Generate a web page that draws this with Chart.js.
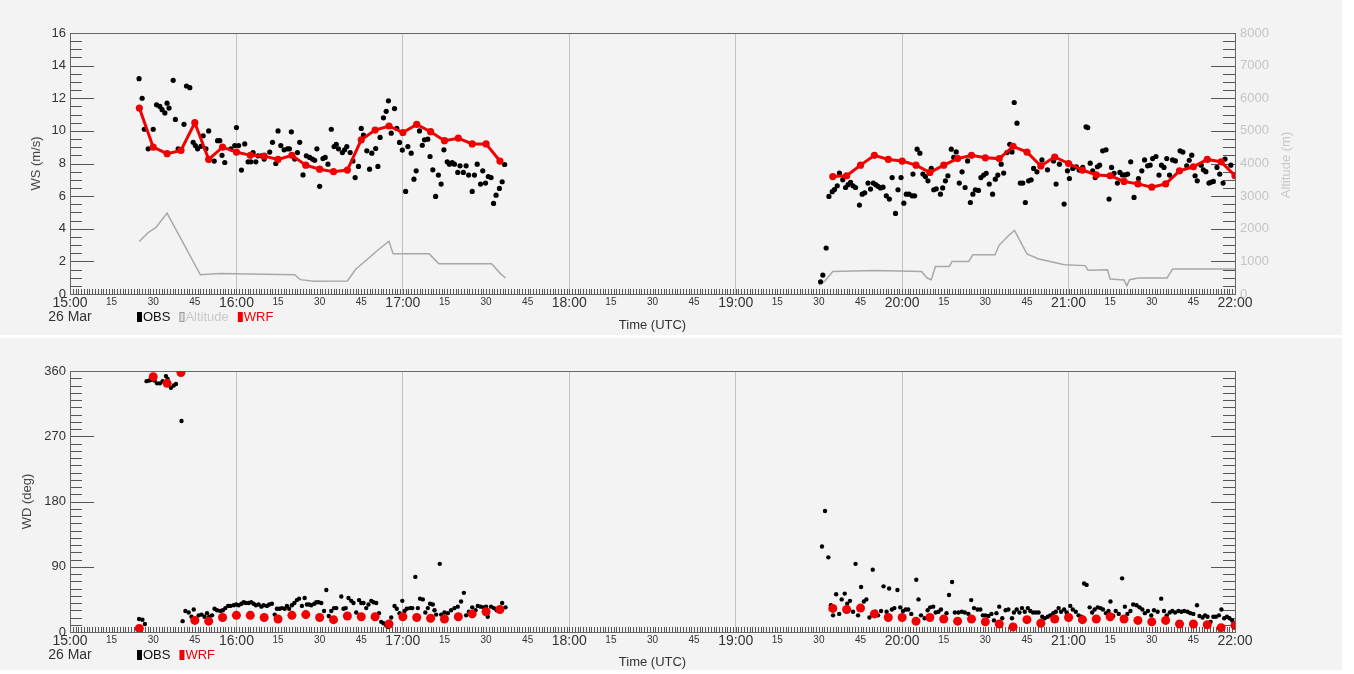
<!DOCTYPE html>
<html>
<head>
<meta charset="utf-8">
<script src="https://cdn.jsdelivr.net/npm/chart.js@4.4.0/dist/chart.umd.min.js"></script>
<style>
  body { margin: 0; background: #fff; }
  .panel { position: absolute; left: 0; width: 1342px; background: #f3f3f3; }
  #p1 { top: 0; height: 335px; }
  #p2 { top: 338px; height: 332px; }
</style>
</head>
<body>
<div class="panel" id="p1"><canvas id="ws"></canvas></div>
<div class="panel" id="p2"><canvas id="wd"></canvas></div>
<script>
// time axis is minutes after 15:00 UTC, 26 Mar
const tStart = 0, tEnd = 420;

// observed wind speed (m/s), [minute, value]
const obsWs = [
  [24.9,13.2],[26,12.0],[26.8,10.1],[28.2,8.9],[30,10.1],[31.2,11.6],[32.4,11.5],[33.2,11.3],[34.2,11.1],[35,11.7],
  [35.7,11.4],[37.2,13.1],[38,10.7],[39,8.9],[41.1,10.4],[42,12.75],[43.2,12.65],[44.4,9.3],[45.2,9.1],[46,8.9],
  [47.2,9.05],[48,9.7],[49,8.9],[50,10.0],[52,8.15],[53.2,9.4],[54,9.4],[54.8,8.5],[55.8,8.06],[58,8.9],
  [59.4,9.1],[60,10.2],[60.8,9.1],[61.8,7.6],[63,9.2],[64.2,8.1],[65.2,8.1],[66,8.67],[67,8.1],[67.8,8.47],
  [69,8.47],[70,8.27],[72,8.7],[73,9.3],[74.2,8.0],[75,10.0],[76,9.1],[77.2,8.84],[78.4,8.9],[79.1,8.9],
  [79.8,9.94],[81,8.27],[82,8.67],[82.8,9.3],[84,7.3],[85.2,8.47],[86.4,8.37],[87.4,8.27],[88.2,8.2],[89,8.9],
  [90,6.6],[91.2,8.3],[92,8.37],[93,7.96],[94.2,10.1],[95.2,9.04],[96,9.18],[96.8,8.9],[98.2,8.67],[99,8.84],
  [99.8,9.04],[101,8.67],[102,8.16],[102.8,7.14],[104,7.82],[105,10.15],[105.8,9.74],[107,8.78],[108,7.65],[108.8,8.63],
  [110.2,8.92],[111,7.82],[111.8,9.6],[113,10.8],[114,11.2],[114.8,11.84],[115.8,9.86],[117,11.37],[117.8,10.15],[118.8,9.29],
  [119.8,8.82],[121,6.29],[121.8,9.04],[123,8.63],[124,7.04],[124.8,7.55],[126,10.0],[127,9.12],[127.8,9.45],[129,9.49],
  [129.8,8.43],[130.8,7.61],[131.8,5.98],[132.8,7.29],[133.8,6.74],[134.8,8.84],[136,8.1],[136.8,7.96],[137.8,8.06],[138.6,7.96],
  [139.8,7.45],[140.6,7.86],[141.8,7.45],[142.8,7.86],[143.7,7.29],[145,6.29],[145.8,7.29],[146.8,7.96],[148,6.74],[148.8,7.55],
  [149.8,6.8],[150.8,7.2],[151.8,7.14],[152.7,5.55],[153.6,6.06],[154.8,6.47],[155.8,6.88],[156.7,7.94],
  [270.6,0.75],[271.4,1.16],[272.6,2.82],[273.6,5.98],[274.8,6.27],[275.6,6.4],[276.6,6.63],[277.4,7.41],[278.6,7.0],[279.6,6.53],
  [280.5,6.7],[281.4,6.84],[282.3,6.63],[283.2,6.53],[284.6,5.45],[285.6,6.12],[286.5,6.2],[287.7,6.8],[288.6,6.43],[289.6,6.8],
  [290.5,6.7],[291.3,6.6],[292.2,6.5],[293.1,6.55],[294.3,6.02],[295.4,5.82],[296.4,7.14],[297.6,4.94],[298.5,6.39],[299.6,7.14],
  [300.6,5.57],[301.5,6.12],[302.5,6.12],[303.6,6.02],[303.9,7.35],[304.5,6.02],[305.4,8.88],[306.4,8.63],[307.5,7.35],[308.4,7.2],
  [309.3,6.94],[310.5,7.7],[311.4,6.39],[312.3,6.45],[313.8,6.12],[314.6,6.5],[315.6,6.94],[316.5,7.25],[317.7,8.88],[318.6,8.37],
  [319.5,8.71],[320.6,6.8],[321.6,7.49],[322.7,6.53],[323.6,8.16],[324.6,5.61],[325.5,6.12],[326.4,6.39],[327.5,6.35],[328.4,7.14],
  [329.4,7.29],[330.3,7.4],[331.4,6.74],[332.6,6.12],[333.6,7.04],[334.5,7.29],[335.7,7.96],[336.6,7.41],[337.8,8.67],[338.8,9.18],
  [339.6,8.71],[340.4,11.74],[341.4,10.47],[342.6,6.8],[343.5,6.8],[344.4,5.61],[345.6,6.94],[346.5,7.0],[347.4,7.7],[348.6,7.49],
  [350.4,8.22],[352.4,7.61],[354.6,8.16],[355.5,6.74],[356.7,7.96],[358.4,5.51],[359.6,7.55],[360.3,7.08],[361.5,7.7],[362.8,7.8],
  [363.8,7.6],[365.1,7.76],[366.3,10.25],[366.9,10.2],[367.8,8.02],[368.7,7.55],[369.6,7.14],[370.4,7.8],[371.2,7.9],[372.3,8.78],
  [373.5,8.84],[374.6,5.82],[375.5,7.76],[376.4,7.4],[377.6,6.8],[378.5,7.45],[379.4,7.3],[380.4,7.3],[381.3,7.35],[382.4,8.1],
  [383.6,5.92],[385.2,7.08],[386.4,7.55],[387.4,8.22],[388.5,7.86],[389.4,7.9],[390.3,8.3],[391.5,8.43],[392.6,7.29],[393.5,7.9],
  [394.4,7.76],[395.4,8.3],[396.4,7.29],[397.5,8.22],[398.5,8.16],[400.2,8.78],[401.2,8.7],[402.6,7.86],[403.5,8.2],[404.4,8.51],
  [405.6,7.25],[406.4,6.94],[407.8,7.9],[408.6,7.61],[409.5,7.5],[410.6,6.8],[411.3,6.85],[412.2,6.9],[413.5,7.76],[414.5,7.35],
  [415.7,6.8],[416.4,8.27],[418.5,7.9]
];

// WRF wind speed (m/s), every 5 minutes
const wrfWsMin = [25,30,35,40,45,50,55,60,65,70,75,80,85,90,95,100,105,110,115,120,125,130,135,140,145,150,155,
  275,280,285,290,295,300,305,310,315,320,325,330,335,340,345,350,355,360,365,370,375,380,385,390,395,400,405,410,415,420];
const wrfWsVal = [11.4,9.0,8.6,8.8,10.5,8.25,9.0,8.7,8.5,8.45,8.25,8.5,7.9,7.65,7.5,7.6,9.45,10.05,10.3,9.9,10.4,9.95,9.4,9.55,9.2,9.2,8.15,
  7.2,7.25,7.9,8.5,8.25,8.15,7.9,7.45,7.9,8.3,8.5,8.35,8.3,9.05,8.7,7.85,8.4,8.0,7.6,7.3,7.25,6.9,6.75,6.55,6.75,7.55,7.8,8.25,8.1,7.25];

// aircraft altitude (m), [minute, value]
const altitude = [
  [25,1610],[28,1870],[31,2040],[35,2480],[47,590],[54,630],[81,590],[83,440],[88,390],[100,400],
  [103,760],[107,1050],[111,1350],[115,1620],[116.5,1230],[129.5,1230],[133,925],[152,925],[155,640],[157,490],
  [270,280],[272,385],[275,690],[290,720],[307,690],[309,490],[310.5,440],[312,845],[317,845],[318,1000],
  [324,1000],[325.5,1200],[333.5,1200],[335,1500],[338.5,1800],[340.5,1950],[345,1230],[349,1080],[358.5,900],[366,870],
  [367,730],[374,740],[375,460],[380,430],[381,250],[382,440],[385,490],[395.5,490],[397.5,765],[420,765]
];

// observed wind direction (deg), [minute, value]
const obsWd = [
  [24.9,18],[26.1,17],[27,11],[27.6,346],[28.6,347],[29.4,348],[30.5,347],[31.4,343],[32.4,343],[33.4,346],
  [34.6,353],[35.2,349],[36.4,337],[37.4,340],[38.2,342],[40.2,291],[40.6,15],[41.6,29],[42.8,27],[43.8,21],
  [44.6,31],[45.4,18],[46.4,23],[47.4,24],[48.5,21],[49.4,26],[50.2,21],[51.2,23],[52.1,32],[53,30],
  [54.2,29],[55.1,30],[56,33],[57,36],[57.8,36],[59,37],[59.9,38],[60.8,37],[61.8,39],[62.6,41],
  [63.4,40],[64.4,40],[65.3,41],[66.2,39],[67,37],[68,38],[69,35],[69.8,37],[71,36],[71.8,38],
  [72.8,39],[73.8,24],[74.6,32],[75.5,32],[76.4,33],[77.4,32],[78.2,36],[79,32],[80,37],[80.9,40],
  [81.8,44],[82.6,46],[83.6,36],[84.6,47],[85.4,38],[86.2,38],[87,37],[88.1,39],[88.8,41],[89.6,41],
  [90.6,40],[91.6,29],[92.4,58],[93.3,22],[94.2,29],[95.2,33],[96,33],[97.8,49],[98.6,32],[99.4,33],
  [100.4,47],[101.4,43],[102.2,40],[103.2,27],[104.2,44],[105,40],[105.8,40],[106.8,33],[107.6,38],[108.6,43],
  [109.4,41],[110.4,40],[111.4,26],[112.2,14],[113,12],[114,9],[114.8,7],[115.8,20],[117,36],[117.8,32],
  [118.8,26],[119.8,43],[120.6,29],[121.4,32],[122.6,33],[123.4,33],[124.5,76],[125.4,33],[126.2,46],[127.2,45],
  [128.1,27],[129,33],[129.8,39],[130.8,38],[131.4,30],[132,24],[133.3,94],[133.8,24],[135,27],[136.2,26],
  [137.4,30],[138.6,33],[139.8,35],[141,42],[142,54],[142.8,23],[143.8,28],[145,34],[146.2,30],[147,36],
  [148,35],[149,34],[150,35],[150.6,21],[151.8,35],[152.8,33],[153.8,30],[155.8,40],[157,34],
  [271.1,118],[272.2,167],[273.4,103],[274.3,37],[275.1,23],[276.2,52],[277.3,25],[278.2,45],[279.3,53],[280.2,39],
  [281.2,43],[282.3,28],[283.2,94],[284.1,23],[285.2,62],[286.2,42],[287.1,45],[288.2,20],[289.4,86],[290.4,28],
  [291.3,23],[292.4,29],[293.3,63],[294.4,28],[295.3,60],[296.3,31],[297.2,33],[298.3,58],[299.3,34],[300.3,29],
  [301.3,31],[302.2,31],[303.3,25],[305.1,72],[305.9,45],[306.8,23],[308.1,19],[309.2,30],[310.1,34],[311.2,35],
  [312.1,27],[313.1,28],[314,31],[316,26],[316.9,51],[318,69],[319,27],[320.3,27],[321.5,28],[322.6,27],
  [323.9,25],[324.9,44],[325.9,33],[327.2,31],[328.2,31],[329.1,23],[330,23],[331.1,22],[332.2,25],[333.1,16],
  [334,26],[335,35],[336.1,19],[337.3,30],[338.3,31],[339.6,19],[340.3,27],[341.3,31],[342.3,27],[343.2,33],
  [344.2,28],[345.3,33],[346.2,29],[347.2,27],[348.2,27],[349.2,27],[350.5,21],[351.4,19],[352.5,21],[353.4,23],
  [354.5,26],[355.4,28],[356.4,33],[357.3,28],[358.4,31],[359.3,27],[360.6,36],[361.5,31],[362.6,28],[363.6,23],
  [364.6,21],[365.6,67],[366.5,65],[367.6,34],[368.5,27],[369.4,31],[370.5,34],[371.5,33],[372.4,31],[373.5,26],
  [374.4,29],[375.1,42],[376.1,22],[377,29],[378.1,25],[379.3,74],[380.3,35],[381.2,25],[382.3,29],[383.3,38],
  [384.5,37],[385.6,34],[386.6,31],[387.5,26],[388.6,29],[389.8,23],[390.8,30],[392.1,28],[393.4,46],[394.4,29],
  [395.4,23],[396.5,27],[397.4,29],[398.4,27],[399.6,29],[400.7,28],[401.7,29],[402.9,28],[403.9,26],[405,25],
  [406.3,37],[407.2,22],[408.3,20],[409.2,23],[410.1,21],[411.2,14],[412.2,21],[413.1,21],[414.2,23],[415.1,31],
  [416.1,19],[417.1,21],[418,19],[419,16]
];

// WRF wind direction (deg), same 5-minute times as the speed
const wrfWdVal = [5,352,343,358,16,15,20,23,23,20,18,23,24,20,17,22,21,21,11,21,20,19,18,21,25,28,31,
  32.5,31,33,25,20,20,15,20,18,15,18,14,11,7,17,12,18,20,17,18,21,18,16,14,16,11,11,10,6,9];

const RED = 'rgb(240,0,0)';
const FONT = '"Liberation Sans", Arial, sans-serif';
Chart.defaults.font.family = FONT;
Chart.defaults.color = '#333';

const pairs = a => a.map(([x, y]) => ({x, y}));
const zip = (xs, ys) => xs.map((x, i) => ({x, y: ys[i]}));

function timeLabel(v) {
  if (v % 60 === 0) {
    const h = (15 + v / 60) + ':00';
    return v === 0 ? [h, '26 Mar'] : h;
  }
  return String(v % 60);
}

// frame, inward tick marks, hand-placed legend and right-hand title
const decor = {
  id: 'decor',
  beforeDatasetsDraw(chart, args, o) {
    const {ctx, chartArea: a} = chart;
    ctx.save();
    ctx.strokeStyle = '#555';
    ctx.lineWidth = 1;
    ctx.beginPath();
    for (const m of o.marks) {
      const s = chart.scales[m.scale];
      const n = Math.round((s.max - s.min) / m.step);
      for (let i = 0; i <= n; i++) {
        const v = s.min + i * m.step;
        const r = v / m.major;
        const len = Math.abs(r - Math.round(r)) < 1e-6 ? m.majorLen : m.len;
        const p = Math.round(s.getPixelForValue(v)) + 0.5;
        if (m.side === 'bottom') { ctx.moveTo(p, a.bottom); ctx.lineTo(p, a.bottom - len); }
        else if (m.side === 'left') { ctx.moveTo(a.left, p); ctx.lineTo(a.left + len, p); }
        else { ctx.moveTo(a.right, p); ctx.lineTo(a.right - len, p); }
      }
    }
    ctx.stroke();
    ctx.strokeStyle = '#666';
    ctx.strokeRect(Math.round(a.left) + 0.5, Math.round(a.top) + 0.5,
      Math.round(a.right - a.left), Math.round(a.bottom - a.top));
    ctx.restore();
  },
  afterDraw(chart, args, o) {
    const {ctx} = chart;
    ctx.save();
    ctx.font = '13px ' + FONT;
    ctx.textBaseline = 'middle';
    let x = o.legend.x;
    const y = o.legend.y;
    for (const it of o.legend.items) {
      ctx.fillStyle = it.box;
      ctx.fillRect(x, y - 5, 5, 10);
      if (it.edge) {
        ctx.strokeStyle = it.edge;
        ctx.strokeRect(x + 0.5, y - 4.5, 4, 9);
      }
      ctx.fillStyle = it.color;
      ctx.fillText(it.text, x + 6, y);
      x += 6 + ctx.measureText(it.text).width + 9;
    }
    if (o.sideTitle) {
      const t = o.sideTitle;
      ctx.translate(t.x, t.y);
      ctx.rotate(-Math.PI / 2);
      ctx.textAlign = 'center';
      ctx.fillStyle = t.color;
      ctx.fillText(t.text, 0, 0);
    }
    ctx.restore();
  }
};

function timeScale(height, titlePad) {
  return {
    type: 'linear', min: tStart, max: tEnd,
    afterFit: s => { s.height = height; },
    border: {display: false},
    grid: {
      drawTicks: false,
      color: c => (c.tick && c.tick.value % 60 === 0) ? '#c2c2c2' : 'rgba(0,0,0,0)'
    },
    ticks: {
      stepSize: 15, autoSkip: false, maxRotation: 0, padding: 2, color: '#333',
      font: c => (c.tick && c.tick.value % 60 === 0) ? {size: 14, lineHeight: 1} : {size: 10, lineHeight: 1.2},
      callback: v => timeLabel(v)
    },
    title: {display: true, text: 'Time (UTC)', color: '#333', font: {size: 13}, padding: {bottom: titlePad, top: 0}}
  };
}

function leftScale(max, step, text, titlePad) {
  return {
    position: 'left', min: 0, max: max,
    afterFit: s => { s.width = 70; },
    border: {display: false},
    grid: {display: false, drawTicks: false},
    ticks: {stepSize: step, padding: 4, color: '#333', font: {size: 13}},
    title: {display: true, text: text, color: '#444', font: {size: 13}, padding: {top: titlePad, bottom: 0}}
  };
}

const xMarks = {scale: 'x', step: 1, major: 15, len: 5, majorLen: 5, side: 'bottom'};

new Chart(document.getElementById('ws'), {
  type: 'scatter',
  data: {
    datasets: [
      {label: 'WRF', data: zip(wrfWsMin, wrfWsVal), showLine: true, spanGaps: 60, order: 0,
       borderColor: RED, borderWidth: 3, pointRadius: 3.6, pointBorderWidth: 0, pointBackgroundColor: RED},
      {label: 'OBS', data: pairs(obsWs), order: 1,
       pointRadius: 2.6, pointBorderWidth: 0, pointBackgroundColor: '#000'},
      {label: 'Altitude', data: pairs(altitude), yAxisID: 'y1', showLine: true, spanGaps: 60, order: 2,
       borderColor: '#a8a8a8', borderWidth: 1.5, pointRadius: 0}
    ]
  },
  options: {
    responsive: true, maintainAspectRatio: false, animation: false, events: [],
    layout: {padding: {top: 33, left: 0, right: 0, bottom: 0}},
    scales: {
      x: timeScale(41, 2),
      y: leftScale(16, 2, 'WS (m/s)', 29),
      y1: {
        position: 'right', min: 0, max: 8000,
        afterFit: s => { s.width = 107; },
        border: {display: false},
        grid: {display: false, drawTicks: false},
        ticks: {stepSize: 1000, padding: 5, color: '#c4c4c4', font: {size: 13}, callback: v => String(v)}
      }
    },
    plugins: {
      legend: {display: false},
      tooltip: {enabled: false},
      decor: {
        marks: [xMarks,
          {scale: 'y', step: 0.5, major: 2, len: 12, majorLen: 24, side: 'left'},
          {scale: 'y1', step: 250, major: 1000, len: 12, majorLen: 24, side: 'right'}],
        legend: {x: 137, y: 317, items: [
          {text: 'OBS', box: '#000', color: '#111'},
          {text: 'Altitude', box: '#e0e0e0', edge: '#9a9a9a', color: '#c8c8c8'},
          {text: 'WRF', box: RED, color: RED}]},
        sideTitle: {text: 'Altitude (m)', x: 1286, y: 165, color: '#c8c8c8'}
      }
    }
  },
  plugins: [decor]
});

new Chart(document.getElementById('wd'), {
  type: 'scatter',
  data: {
    datasets: [
      {label: 'WRF', data: zip(wrfWsMin, wrfWdVal), order: 0,
       pointRadius: 4.5, pointBorderWidth: 0, pointBackgroundColor: RED},
      {label: 'OBS', data: pairs(obsWd), order: 1,
       pointRadius: 2.2, pointBorderWidth: 0, pointBackgroundColor: '#000'}
    ]
  },
  options: {
    responsive: true, maintainAspectRatio: false, animation: false, events: [],
    layout: {padding: {top: 33, left: 0, right: 107, bottom: 0}},
    scales: {
      x: timeScale(38, 0),
      y: leftScale(360, 90, 'WD (deg)', 20)
    },
    plugins: {
      legend: {display: false},
      tooltip: {enabled: false},
      decor: {
        marks: [xMarks,
          {scale: 'y', step: 10, major: 90, len: 12, majorLen: 24, side: 'left'},
          {scale: 'y', step: 10, major: 90, len: 12, majorLen: 24, side: 'right'}],
        legend: {x: 137, y: 317, items: [
          {text: 'OBS', box: '#000', color: '#111'},
          {text: 'WRF', box: RED, color: RED}]}
      }
    }
  },
  plugins: [decor]
});
</script>
</body>
</html>
